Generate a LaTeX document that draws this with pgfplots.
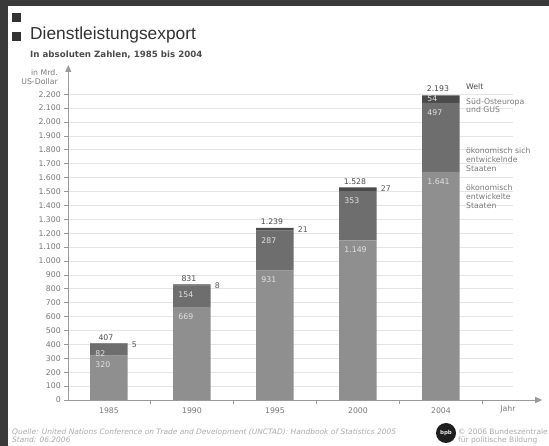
\documentclass[border=0pt]{standalone}
\usepackage{pgfplots}
\pgfplotsset{compat=1.18}
\usepackage{pgfplotstable}
\usetikzlibrary{arrows.meta}
\usepackage{fontspec}
\setmainfont{DejaVu Sans}
\newfontfamily\titlefont{Liberation Sans}
\definecolor{cA}{HTML}{8F8F8F}
\definecolor{cB}{HTML}{6E6E6E}
\definecolor{cC}{HTML}{4A4A4A}
\definecolor{axc}{HTML}{9A9A9A}
\definecolor{gridc}{HTML}{E4E4E4}
\definecolor{txt}{HTML}{7A7A7A}
\definecolor{frame}{HTML}{3A3A3A}
\definecolor{foot}{HTML}{ABABAB}
\definecolor{inlbl}{HTML}{E2E2E2}
\definecolor{outlbl}{HTML}{595959}

\pgfplotstableread{
x a b c total
0 320 82 5 407
1 669 154 8 831
2 931 287 21 1239
3 1149 353 27 1528
4 1641 497 54 2193
}\datatable

\newcommand{\sm}{\fontsize{7.8}{9}\selectfont}
\pgfplotsset{frameaxis/.style={
 at={(68.3bp,46bp)}, anchor=south west, scale only axis,
 width=473.9bp, height=335bp,
 xmin=-0.49, xmax=5.22, ymin=0, ymax=2410,
 /pgf/number format/assume math mode=true,
 /pgf/number format/1000 sep={.},
 clip=false}}

\begin{document}
\begin{tikzpicture}[x=1bp,y=1bp]
\useasboundingbox (0,0) rectangle (549,446);
\fill[white] (0,0) rectangle (549,446);
\fill[frame] (0,440) rectangle (549,446);
\fill[frame] (0,0) rectangle (8,446);
\fill[black!80] (12,424) rectangle (21,433);
\fill[black!80] (12,405) rectangle (21,414);
\node[anchor=base west, inner sep=0, font=\titlefont\fontsize{17.4}{20}\selectfont, text=black!80] at (30,406) {Dienstleistungsexport};
\node[anchor=base west, inner sep=0, font=\bfseries\fontsize{8.7}{10}\selectfont, text=black!70] at (30,388) {In absoluten Zahlen, 1985 bis 2004};
\node[anchor=east, align=right, inner sep=0, font=\sm, text=txt] at (58,368.5) {in Mrd.\\US-Dollar};
\foreach \v in {1,...,22} \draw[gridc, line width=0.6bp] (68.3,46+\v*13.9004) -- (513,46+\v*13.9004);

\begin{axis}[
 frameaxis,
 ybar stacked, bar width=37.5bp,
 axis lines=left,
 axis line style={draw=axc, line width=0.8bp},
 x axis line style={-{Triangle[length=7bp,width=6bp]}},
 y axis line style={-{Triangle[length=7bp,width=6bp]}},
 ytick={0,100,...,2200},
 xtick={0,...,4}, xticklabels={1985,1990,1995,2000,2004},
 minor xtick={0.5,1.5,2.5,3.5,4.5},
 tick align=outside, major tick length=4bp, minor tick length=4bp,
 major x tick style={draw=none},
 y tick style={draw=axc, line width=0.6bp},
 minor x tick style={draw=axc, line width=0.6bp},
 tick label style={font=\sm, text=txt},
]
\addplot[fill=cA, draw=none, point meta=explicit, nodes near coords,
  visualization depends on={\thisrow{a} \as \hv},
  every node near coord/.append style={anchor=west, inner sep=0pt, xshift=-13.75bp, yshift={\hv*0.069502bp-9.5bp}, text=inlbl, font=\sm}]
  table[x=x,y=a,meta=a]{\datatable};
\addplot[fill=cB, draw=none, point meta=explicit, nodes near coords,
  visualization depends on={\thisrow{b} \as \hv},
  every node near coord/.append style={anchor=west, inner sep=0pt, xshift=-13.75bp, yshift={\hv*0.069502bp-9.5bp}, text=inlbl, font=\sm}]
  table[x=x,y=b,meta=b]{\datatable};
\addplot[fill=cC, draw=none, point meta=explicit, nodes near coords,
  visualization depends on={\thisrow{x} \as \xx},
  visualization depends on={\thisrow{c} \as \cv},
  every node near coord/.append style={anchor=west, inner sep=0pt,
     xshift={ifthenelse(\xx>3.5,-13.75,22.75)*1bp},
     yshift={ifthenelse(\xx>3.5,0,\cv*0.069502-1.5)*1bp},
     /utils/exec={\ifdim\xx pt>3.5pt\def\lblc{inlbl}\else\def\lblc{outlbl}\fi},
     text=\lblc, font=\sm}]
  table[x=x,y=c,meta=c]{\datatable};
\end{axis}

\begin{axis}[frameaxis, hide axis]
\addplot[draw=none, mark=none, point meta=explicit, nodes near coords,
  every node near coord/.append style={anchor=south, inner sep=0pt, xshift=-3bp, yshift=3bp, text=black!70, font=\sm}]
  table[x=x,y=total,meta=total]{\datatable};
\end{axis}

\node[anchor=center, font=\sm, text=txt] at (508,37) {Jahr};
\begin{scope}[font=\sm, inner sep=0, anchor=west]
\node[anchor=west, text=black!70] at (466,359) {Welt};
\node[anchor=west, text=txt] at (466,344) {Süd-Osteuropa};
\node[anchor=west, text=txt] at (466,336) {und GUS};
\node[anchor=west, text=txt] at (466,295) {ökonomisch sich};
\node[anchor=west, text=txt] at (466,286) {entwickelnde};
\node[anchor=west, text=txt] at (466,277) {Staaten};
\node[anchor=west, text=txt] at (466,258) {ökonomisch};
\node[anchor=west, text=txt] at (466,249) {entwickelte};
\node[anchor=west, text=txt] at (466,240) {Staaten};
\end{scope}
\node[anchor=west, inner sep=0, font=\itshape\fontsize{7.5}{8}\selectfont, text=foot] at (12,14) {Quelle: United Nations Conference on Trade and Development (UNCTAD): Handbook of Statistics 2005};
\node[anchor=west, inner sep=0, font=\itshape\fontsize{7.5}{8}\selectfont, text=foot] at (12,6) {Stand: 06.2006};
\fill[black!88] (446,13) circle (10);
\node[font=\bfseries\fontsize{5.5}{6}\selectfont, text=white!80!gray, inner sep=0] at (446,13) {bpb};
\node[anchor=west, inner sep=0, font=\fontsize{7.5}{8}\selectfont, text=foot] at (458,14) {© 2006 Bundeszentrale};
\node[anchor=west, inner sep=0, font=\fontsize{7.5}{8}\selectfont, text=foot] at (458,6) {für politische Bildung};
\end{tikzpicture}
\end{document}
